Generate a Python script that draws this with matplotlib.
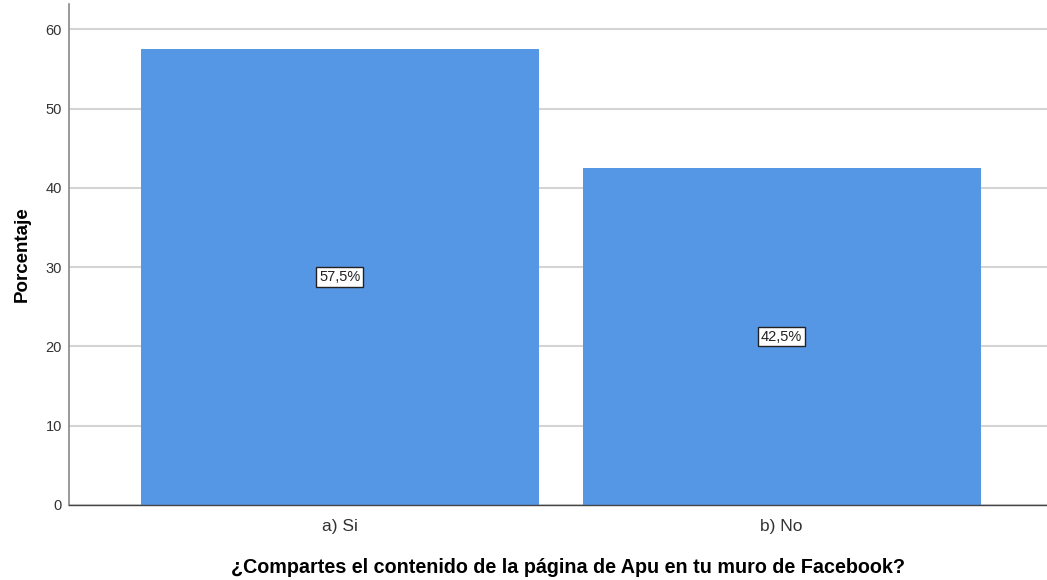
import matplotlib.pyplot as plt

plt.rcParams['font.family'] = ['Liberation Sans', 'DejaVu Sans']

categorias = ['a) Si', 'b) No']
porcentajes = [57.5, 42.5]
etiquetas = ['57,5%', '42,5%']
yticks = [0, 10, 20, 30, 40, 50, 60]

fig = plt.figure(figsize=(10.47, 5.8), dpi=100)
ax = fig.add_axes([69 / 1047, 1 - 505 / 580, (1047 - 69) / 1047, (505 - 4) / 580])

x = range(len(categorias))
barras = ax.bar(x, porcentajes, width=0.9, color='#5596e5', zorder=2)

# etiqueta de valor en el centro de cada barra
for b, txt, v in zip(barras, etiquetas, porcentajes):
    ax.text(b.get_x() + b.get_width() / 2, v / 2, txt, ha='center', va='center',
            fontsize=10.5, color='#222222', zorder=3,
            bbox=dict(boxstyle='square,pad=0.2', fc='white', ec='#222222', lw=1.0))

ax.set_xlim(-0.612, 1.60)
ax.set_ylim(0, 63.2)
ax.set_yticks(yticks)
ax.set_xticks(list(x))
ax.set_xticklabels(categorias, fontsize=12.5, color='#333333')
ax.tick_params(axis='y', labelsize=10.5, colors='#333333', length=0, pad=5)
ax.tick_params(axis='x', length=0, pad=10)
ax.yaxis.grid(True, color='#d4d4d4', lw=1.5, zorder=0)

for s in ['top', 'right']:
    ax.spines[s].set_visible(False)
ax.spines['left'].set_color('#888888')
ax.spines['left'].set_linewidth(1.2)
ax.spines['bottom'].set_color('#444444')
ax.spines['bottom'].set_linewidth(1.0)

ax.set_ylabel('Porcentaje', fontsize=13.5, fontweight='bold', labelpad=11)
ax.set_xlabel('¿Compartes el contenido de la página de Apu en tu muro de Facebook?',
              fontsize=14.2, fontweight='bold', labelpad=17)
ax.xaxis.set_label_coords(0.51, -0.105)

fig.savefig('out.png', dpi=100)
